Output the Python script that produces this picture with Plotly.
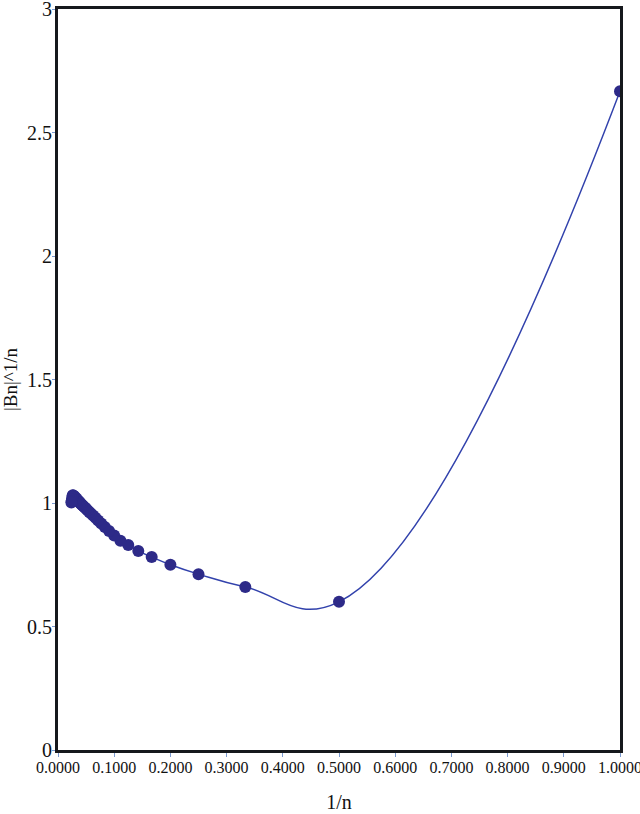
import plotly.graph_objects as go

# n = 1 .. 42, x = 1/n
n_values = list(range(1, 43))
bn_root = [
    2.667, 0.600, 0.660, 0.712, 0.750, 0.781, 0.806, 0.830, 0.847, 0.868,
    0.887, 0.903, 0.917, 0.929, 0.940, 0.949, 0.957, 0.964, 0.971, 0.977,
    0.982, 0.987, 0.991, 0.995, 0.999, 1.002, 1.006, 1.009, 1.012, 1.015,
    1.018, 1.020, 1.022, 1.024, 1.026, 1.028, 1.030, 1.031, 1.025, 1.015,
    1.008, 1.002,
]
x_ticks = [0.0, 0.1, 0.2, 0.3, 0.4, 0.5, 0.6, 0.7, 0.8, 0.9, 1.0]
y_ticks = [0, 0.5, 1, 1.5, 2, 2.5, 3]

inv_n = [1 / n for n in n_values]

fig = go.Figure()
fig.add_trace(go.Scatter(
    x=inv_n,
    y=bn_root,
    mode='lines+markers',
    line=dict(color='#3242ac', width=1.5, shape='spline', smoothing=1.3),
    marker=dict(color='#2d2a88', size=12),
    showlegend=False,
))

fig.update_layout(
    width=640,
    height=814,
    margin=dict(l=58, r=20, t=9, b=64),
    paper_bgcolor='white',
    plot_bgcolor='white',
    font=dict(family='Liberation Serif', color='#111111'),
    xaxis=dict(
        range=[0, 1],
        tickvals=x_ticks,
        tickformat='.4f',
        tickfont=dict(size=16),
        ticklabeloverflow='allow',
        ticklabelstandoff=-3,
        ticks='outside',
        ticklen=4,
        tickcolor='#7a9ad0',
        showgrid=False,
        zeroline=False,
        showline=True,
        linewidth=3,
        linecolor='#16181c',
        mirror=True,
        automargin=False,
        title=dict(text='1/n', font=dict(size=20), standoff=20),
    ),
    yaxis=dict(
        range=[0, 3],
        tickvals=y_ticks,
        tickfont=dict(size=20),
        ticklabeloverflow='allow',
        ticklabelstandoff=-4,
        ticks='outside',
        ticklen=3,
        tickcolor='#7a9ad0',
        showgrid=False,
        zeroline=False,
        showline=True,
        linewidth=3,
        linecolor='#16181c',
        mirror=True,
        automargin=False,
        title=dict(text='|Bn|^1/n', font=dict(size=19), standoff=5),
    ),
)

# drop the default body margin so the chart sits at the top-left corner
fig.write_html(
    'out.html',
    config={'displayModeBar': False},
    post_script="document.body.style.margin='0';",
)
